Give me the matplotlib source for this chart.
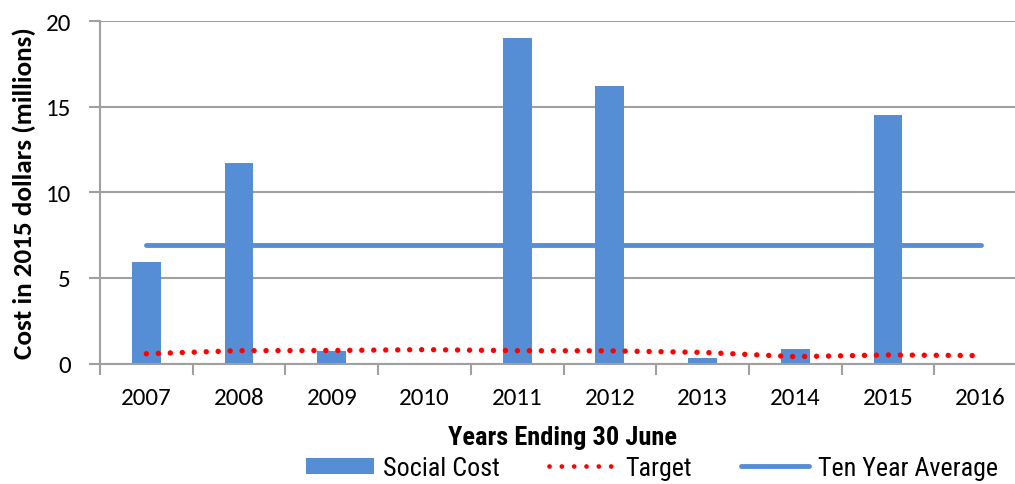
import numpy as np
import matplotlib.pyplot as plt
from matplotlib.lines import Line2D
from matplotlib.patches import Patch
from matplotlib import font_manager

years = ['2007', '2008', '2009', '2010', '2011', '2012', '2013', '2014', '2015', '2016']
social_cost = [5.92, 11.70, 0.74, 0.0, 19.02, 16.23, 0.33, 0.86, 14.54, 0.0]
target = [0.57, 0.75, 0.76, 0.81, 0.75, 0.74, 0.65, 0.40, 0.50, 0.46]
ten_year_avg = [6.94] * 10

blue = '#558ed5'
grey = '#a0a0a0'

installed = {f.name for f in font_manager.fontManager.ttflist}

def pick(options):
    for name in options:
        if name in installed:
            return name
    return 'DejaVu Sans'

main_font = pick(['Carlito', 'Liberation Sans', 'Open Sans'])
narrow = pick(['Roboto Condensed', 'PT Sans Narrow', 'Archivo Narrow', 'Pragati Narrow',
               'Liberation Sans Narrow', 'Fira Sans Condensed', 'Barlow Condensed'])
plt.rcParams['font.family'] = [main_font, 'DejaVu Sans']

fig = plt.figure(figsize=(10.15, 4.85), dpi=100)
ax = fig.add_axes([100 / 1015, 120.5 / 485, 927 / 1015, 342.2 / 485])

x = np.arange(len(years))
dots = (0, (0.01, 2.2))
ax.bar(x, social_cost, width=0.31, color=blue, zorder=2)
ax.plot(x, ten_year_avg, color=blue, lw=3.5, solid_capstyle='round', zorder=3)
ax.plot(x, target, color='red', lw=3.9, linestyle=dots, dash_capstyle='round', zorder=4)

ax.set_xlim(-0.5, 9.5)
ax.set_ylim(0, 20)
ax.set_yticks([0, 5, 10, 15, 20])
ax.set_xticks(x)
ax.set_xticklabels(years)
ax.set_xticks(np.arange(-0.5, 10, 1), minor=True)
ax.tick_params(axis='x', which='major', length=0, pad=17, labelsize=18)
ax.tick_params(axis='x', which='minor', length=8, width=1.5, color=grey)
ax.tick_params(axis='y', length=8, width=1.5, color=grey, labelsize=18, pad=13)
ax.grid(axis='y', color=grey, lw=1.5, zorder=0)
ax.set_axisbelow(True)
for s in ['top', 'right']:
    ax.spines[s].set_visible(False)
for s in ['left', 'bottom']:
    ax.spines[s].set_color(grey)
    ax.spines[s].set_linewidth(1.5)

ax.set_ylabel('Cost in 2015 dollars (millions)', fontsize=19.5, fontweight='bold')
ax.yaxis.set_label_coords(-(100 - 36) / 927, 0.5)
fig.text(563 / 1015, 47 / 485, 'Years Ending 30 June', ha='center', va='center',
         fontsize=19, fontweight='bold', family=narrow)

handles = [
    Patch(facecolor=blue),
    Line2D([], [], color='red', lw=3.4, linestyle=(0, (0.01, 2.6)), dash_capstyle='round'),
    Line2D([], [], color=blue, lw=3.5, solid_capstyle='round'),
]
fig.legend(handles, ['Social Cost', 'Target', 'Ten Year Average'], ncol=3,
           loc='center', bbox_to_anchor=(652 / 1015, 16 / 485), frameon=False,
           prop={'family': narrow, 'size': 18.7}, handlelength=2.6, handleheight=0.58,
           columnspacing=1.9, handletextpad=0.35, borderpad=0)

fig.savefig('out.png', dpi=100)
